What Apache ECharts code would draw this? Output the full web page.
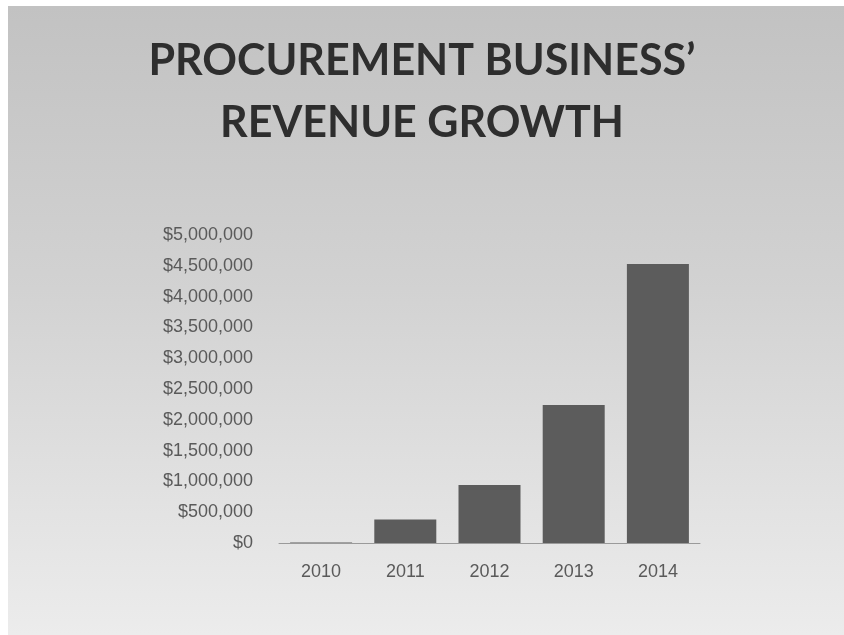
<!DOCTYPE html>
<html>
<head>
<meta charset="utf-8">
<script src="https://cdn.jsdelivr.net/npm/echarts@6/dist/echarts.min.js"></script>
<style>
  html, body { margin: 0; padding: 0; background: #ffffff; }
  #frame {
    position: absolute; left: 8px; top: 6px; width: 836px; height: 629px;
    background: linear-gradient(to bottom, #c2c2c2 0%, #d2d2d2 45%, #ececec 100%);
  }
  #chart { position: absolute; left: -8px; top: -6px; width: 844px; height: 635px; }
</style>
</head>
<body>
<div id="frame"><div id="chart"></div></div>
<script>
// Annual revenue of the procurement business, in US dollars
const years = ['2010', '2011', '2012', '2013', '2014'];
const revenue = [10000, 380000, 940000, 2240000, 4530000];
const yTicks = { min: 0, max: 5000000, interval: 500000 };

const fmtDollars = v => '$' + v.toLocaleString('en-US');

const chart = echarts.init(document.getElementById('chart'), null, { renderer: 'canvas' });
chart.setOption({
  backgroundColor: 'transparent',
  title: {
    text: 'PROCUREMENT BUSINESS\u2019\nREVENUE GROWTH',
    left: 'center',
    top: 25,
    textStyle: {
      fontFamily: 'Lato',
      fontWeight: 'bold',
      fontSize: 43,
      lineHeight: 62,
      color: '#2e2e2e'
    }
  },
  grid: { left: 279, right: 144, top: 235, bottom: 92 },
  xAxis: {
    type: 'category',
    data: years,
    axisLine: { lineStyle: { color: '#9a9a9a', width: 1 } },
    axisTick: { show: false },
    axisLabel: {
      margin: 20,
      fontFamily: 'Liberation Sans',
      fontSize: 18,
      color: '#5a5a5a'
    }
  },
  yAxis: {
    type: 'value',
    min: yTicks.min,
    max: yTicks.max,
    interval: yTicks.interval,
    axisLine: { show: false },
    axisTick: { show: false },
    splitLine: { show: false },
    axisLabel: {
      margin: 26,
      fontFamily: 'Liberation Sans',
      fontSize: 18,
      color: '#5a5a5a',
      formatter: fmtDollars
    }
  },
  series: [{
    type: 'bar',
    data: revenue,
    barWidth: 62,
    itemStyle: { color: '#5c5c5c' },
    animation: false
  }]
});
</script>
</body>
</html>
